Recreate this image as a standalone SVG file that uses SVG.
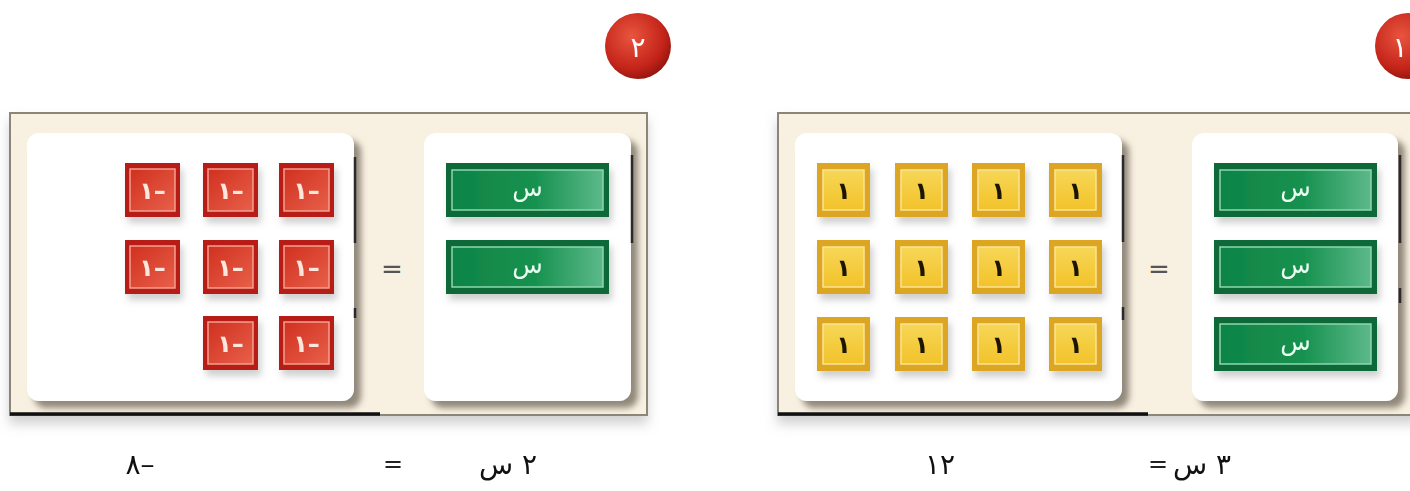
<svg xmlns="http://www.w3.org/2000/svg" width="1410" height="491" viewBox="0 0 1410 491">
<style>
.frame{fill:#f8f0e0;stroke:#8c857a;stroke-width:2}
.box{fill:#ffffff;filter:url(#sh)}
.tick{stroke:#2a2a2a;stroke-width:2.5}
.base{stroke:#111;stroke-width:3.5}
.eq{font-family:"DejaVu Sans",sans-serif;font-size:26px;fill:#555;text-anchor:middle}
.lbl{font-family:"DejaVu Serif","DejaVu Sans",serif;font-size:28px;fill:#111;text-anchor:middle}
.ro{fill:#b71c14}
.ri{fill:url(#gr);stroke:#f3a08f;stroke-width:1.5}
.rtx{font-family:"DejaVu Sans",sans-serif;font-size:24px;fill:#fde6dc;text-anchor:middle;font-weight:bold}
.yo{fill:#dca624}
.yi{fill:url(#gy);stroke:#fbe494;stroke-width:1.5}
.ytx{font-family:"DejaVu Sans",sans-serif;font-size:24px;fill:#1a1205;text-anchor:middle;font-weight:bold}
.go{fill:#0b6a39}
.gi{fill:url(#gg);stroke:#8fd6ae;stroke-width:1.5}
.gtx{font-family:"DejaVu Sans",sans-serif;font-size:25px;fill:#eafff2;text-anchor:middle}
.badge text{font-family:"DejaVu Sans",sans-serif;font-size:28px;fill:#fff;text-anchor:middle}
</style>
<defs>
<filter id="sh" x="-10%" y="-10%" width="130%" height="130%">
<feDropShadow dx="7" dy="7" stdDeviation="3" flood-color="#6e665a" flood-opacity="0.75"/>
</filter>
<filter id="ts" x="-20%" y="-20%" width="150%" height="150%">
<feDropShadow dx="3" dy="6" stdDeviation="3.5" flood-color="#888" flood-opacity="0.4"/>
</filter>
<filter id="fs" x="-5%" y="-5%" width="110%" height="120%">
<feDropShadow dx="0" dy="8" stdDeviation="6" flood-color="#999" flood-opacity="0.45"/>
</filter>
<linearGradient id="gr" x1="0" y1="0" x2="1" y2="1">
<stop offset="0" stop-color="#d0301f"/><stop offset="1" stop-color="#e8604a"/>
</linearGradient>
<linearGradient id="gy" x1="0" y1="0" x2="0" y2="1">
<stop offset="0" stop-color="#f7d657"/><stop offset="1" stop-color="#f2c22a"/>
</linearGradient>
<linearGradient id="gg" x1="0" y1="0" x2="1" y2="0">
<stop offset="0" stop-color="#0f8447"/><stop offset="0.55" stop-color="#17914f"/><stop offset="1" stop-color="#5cb98a"/>
</linearGradient>
<radialGradient id="gb" cx="0.4" cy="0.35" r="0.7">
<stop offset="0" stop-color="#e8553f"/><stop offset="0.7" stop-color="#c42419"/><stop offset="1" stop-color="#8e140e"/>
</radialGradient>
<g id="rt"><rect class="ro" x="0" y="0" width="55" height="54"/><rect class="ri" x="5" y="6" width="45" height="42"/><text class="rtx" x="27.5" y="36">١–</text></g>
<g id="yt"><rect class="yo" x="0" y="0" width="53" height="54"/><rect class="yi" x="6" y="7" width="41" height="40"/><text class="ytx" x="26.5" y="36">١</text></g>
<g id="gt"><rect class="go" x="0" y="0" width="163" height="54"/><rect class="gi" x="6" y="7" width="151" height="40"/><text class="gtx" x="81.5" y="33">س</text></g>
</defs>
<rect width="1410" height="491" fill="#ffffff"/>

<g id="panel2">
<rect class="frame" x="10" y="113" width="637" height="302" filter="url(#fs)"/>
<line class="base" x1="10" y1="414" x2="380" y2="414"/>
<rect class="box" x="27" y="133" width="327" height="268" rx="12"/>
<rect class="box" x="424" y="133" width="207" height="268" rx="12"/>
<line class="tick" x1="355" y1="157" x2="355" y2="243"/>
<line class="tick" x1="355" y1="308" x2="355" y2="318"/>
<line class="tick" x1="632" y1="155" x2="632" y2="243"/>
<text class="eq" x="392" y="278">=</text>
</g>

<g id="red-tiles" filter="url(#ts)">
<use href="#rt" x="125" y="163"/><use href="#rt" x="203" y="163"/><use href="#rt" x="279" y="163"/>
<use href="#rt" x="125" y="240"/><use href="#rt" x="203" y="240"/><use href="#rt" x="279" y="240"/>
<use href="#rt" x="203" y="316"/><use href="#rt" x="279" y="316"/>
</g>
<g id="green-tiles-2" filter="url(#ts)">
<use href="#gt" x="446" y="163"/><use href="#gt" x="446" y="240"/>
</g>

<g id="panel1">
<rect class="frame" x="778" y="113" width="640" height="302" filter="url(#fs)"/>
<line class="base" x1="778" y1="414" x2="1148" y2="414"/>
<rect class="box" x="795" y="133" width="327" height="268" rx="12"/>
<rect class="box" x="1192" y="133" width="206" height="268" rx="12"/>
<line class="tick" x1="1123" y1="155" x2="1123" y2="242"/>
<line class="tick" x1="1123" y1="307" x2="1123" y2="320"/>
<line class="tick" x1="1400" y1="155" x2="1400" y2="243"/>
<line class="tick" x1="1400" y1="288" x2="1400" y2="303"/>
<text class="eq" x="1159" y="278">=</text>
</g>

<g id="yellow-tiles" filter="url(#ts)">
<use href="#yt" x="817" y="163"/><use href="#yt" x="895" y="163"/><use href="#yt" x="972" y="163"/><use href="#yt" x="1049" y="163"/>
<use href="#yt" x="817" y="240"/><use href="#yt" x="895" y="240"/><use href="#yt" x="972" y="240"/><use href="#yt" x="1049" y="240"/>
<use href="#yt" x="817" y="317"/><use href="#yt" x="895" y="317"/><use href="#yt" x="972" y="317"/><use href="#yt" x="1049" y="317"/>
</g>
<g id="green-tiles-1" filter="url(#ts)">
<use href="#gt" x="1214" y="163"/><use href="#gt" x="1214" y="240"/><use href="#gt" x="1214" y="317"/>
</g>

<g id="badge2" class="badge">
<circle cx="638" cy="46" r="33" fill="url(#gb)"/>
<text x="638" y="57">٢</text>
</g>
<g id="badge1" class="badge">
<circle cx="1408" cy="46" r="33" fill="url(#gb)"/>
<text x="1400" y="57">١</text>
</g>

<g id="equation2">
<text class="lbl" x="140" y="474">٨–</text>
<text class="eq" x="393" y="472" style="font-size:24px;fill:#222">=</text>
<text class="lbl" x="508" y="474" direction="rtl">٢ س</text>
</g>
<g id="equation1">
<text class="lbl" x="940" y="474">١٢</text>
<text class="eq" x="1158" y="472" style="font-size:24px;fill:#222">=</text>
<text class="lbl" x="1202" y="474" direction="rtl">٣ س</text>
</g>
</svg>
